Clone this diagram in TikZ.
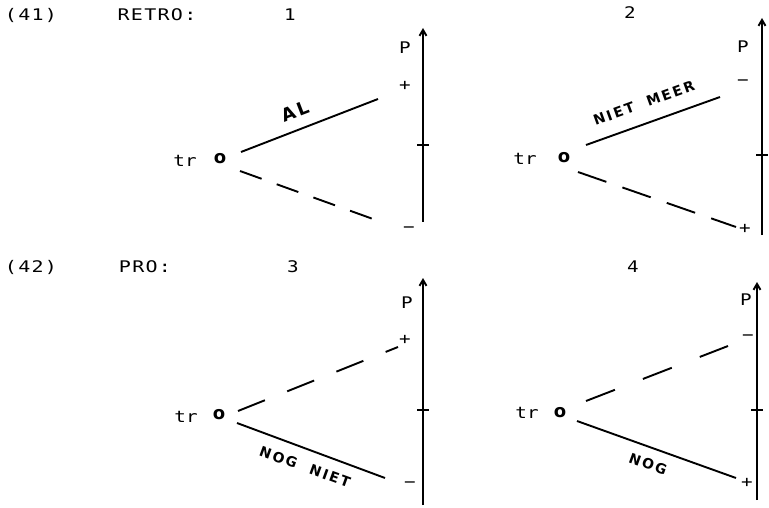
\documentclass[tikz,border=0pt]{standalone}
\usepackage{fontspec}
\newfontfamily\typefont[LetterSpace=8,FakeStretch=1.25]{DejaVu Sans Mono}
\newfontfamily\signfont[FakeStretch=1.2]{DejaVu Sans Mono}
\newfontfamily\handfont[LetterSpace=15]{DejaVu Sans}
\newfontfamily\ringfont{DejaVu Sans}
\usetikzlibrary{arrows.meta}

\begin{document}
\begin{tikzpicture}[x=1pt,y=-1pt,
  axis/.style={-{Straight Barb[length=6pt,width=7pt]},line width=1.9pt},
  full/.style={line width=1.9pt},
  broken/.style={line width=1.9pt,dash pattern=#1},
  broken/.default={on 24pt off 16pt},
  tickmark/.style={line width=1.9pt},
  txt/.style={font=\typefont\fontsize{16}{18}\selectfont,inner sep=0pt},
  sign/.style={font=\signfont\fontsize{16}{18}\selectfont,inner sep=0pt},
  hand/.style={font=\handfont\bfseries\fontsize{14}{16}\selectfont,inner sep=0pt},
  orig/.style={font=\ringfont\bfseries\fontsize{18}{20}\selectfont,inner sep=0pt}
]
  \useasboundingbox (0,0) rectangle (769,508);

  % headings
  \node[txt] (n41) at (31,15) {(41)};
  \node[txt] (retro) at (157,15) {RETRO:};
  \node[sign] (h1) at (290,15) {1};
  \node[sign] (h2) at (630,13) {2};
  \node[txt] (n42) at (31,267) {(42)};
  \node[txt] (pro) at (145,267) {PRO:};
  \node[sign] (h3) at (293,267) {3};
  \node[sign] (h4) at (633,267) {4};

  % panel 1
  \coordinate (b1) at (423,222);
  \coordinate (t1) at (423,28);
  \draw[axis] (b1) -- (t1);
  \draw[tickmark] (417,145) -- (429,145);
  \node[sign] (p1) at (405,48) {P};
  \node[sign] (up1) at (405,86) {+};
  \node[sign] (dn1) at (409,230) {−};
  \node[sign] (tr1) at (185,161) {tr};
  \node[orig] (o1) at (220,159) {o};
  \coordinate (s1) at (241,152);
  \coordinate (e1) at (378,99);
  \coordinate (s1b) at (240,171);
  \coordinate (e1b) at (373,219);
  \draw[full] (s1) -- (e1);
  \draw[broken={on 23pt off 16pt}] (s1b) -- (e1b);
  \node[hand,rotate=21,font=\handfont\bfseries\fontsize{18}{20}\selectfont] (al) at (295,111) {AL};

  % panel 2
  \coordinate (b2) at (762,235);
  \coordinate (t2) at (762,18);
  \draw[axis] (b2) -- (t2);
  \draw[tickmark] (756,155) -- (768,155);
  \node[sign] (p2) at (743,47) {P};
  \node[sign] (up2) at (743,83) {−};
  \node[sign] (dn2) at (745,229) {+};
  \node[sign] (tr2) at (525,159) {tr};
  \node[orig] (o2) at (564,158) {o};
  \coordinate (s2) at (586,145);
  \coordinate (e2) at (720,97);
  \coordinate (s2b) at (578,172);
  \coordinate (e2b) at (736,227);
  \draw[full] (s2) -- (e2);
  \draw[broken={on 30pt off 17pt}] (s2b) -- (e2b);
  \node[hand,rotate=20] (nietmeer) at (644,103) {NIET\ \ MEER};

  % panel 3
  \coordinate (b3) at (423,505);
  \coordinate (t3) at (423,278);
  \draw[axis] (b3) -- (t3);
  \draw[tickmark] (417,410) -- (429,410);
  \node[sign] (p3) at (407,303) {P};
  \node[sign] (up3) at (405,340) {+};
  \node[sign] (dn3) at (410,485) {−};
  \node[sign] (tr3) at (186,417) {tr};
  \node[orig] (o3) at (219,415) {o};
  \coordinate (s3b) at (238,411);
  \coordinate (e3b) at (398,347);
  \coordinate (s3) at (237,423);
  \coordinate (e3) at (385,478);
  \draw[broken={on 29pt off 24pt}] (s3b) -- (e3b);
  \draw[full] (s3) -- (e3);
  \node[hand,rotate=-20] (nogniet) at (305,467) {NOG\ \ NIET};

  % panel 4
  \coordinate (b4) at (757,500);
  \coordinate (t4) at (757,282);
  \draw[axis] (b4) -- (t4);
  \draw[tickmark] (751,410) -- (763,410);
  \node[sign] (p4) at (746,300) {P};
  \node[sign] (up4) at (748,338) {−};
  \node[sign] (dn4) at (747,483) {+};
  \node[sign] (tr4) at (527,413) {tr};
  \node[orig] (o4) at (560,413) {o};
  \coordinate (s4b) at (586,401);
  \coordinate (e4b) at (728,346);
  \coordinate (s4) at (577,421);
  \coordinate (e4) at (736,478);
  \draw[broken={on 31pt off 30pt}] (s4b) -- (e4b);
  \draw[full] (s4) -- (e4);
  \node[hand,rotate=-20] (nog) at (648,464) {NOG};
\end{tikzpicture}
\end{document}
